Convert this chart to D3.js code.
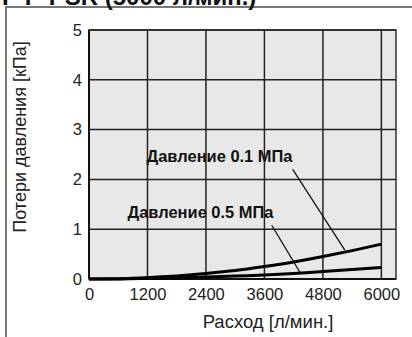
<!DOCTYPE html>
<html><head><meta charset="utf-8">
<script src="https://cdn.jsdelivr.net/npm/d3@7"></script>
<style>
html,body{margin:0;padding:0;background:#fff;}
svg{display:block;}
</style></head>
<body>
<svg id="chart" width="412" height="337"></svg>
<script>
const titleText = "Р P-PSR (5000 л/мин.)";
const xTicks = [0, 1200, 2400, 3600, 4800, 6000];
const yTicks = [0, 1, 2, 3, 4, 5];
const flow = [0, 600, 1200, 1800, 2400, 3000, 3600, 4200, 4800, 5400, 6000];
const loss01 = [0, 0.005, 0.03, 0.06, 0.11, 0.17, 0.25, 0.34, 0.45, 0.57, 0.70];
const loss05 = [0, 0.002, 0.01, 0.02, 0.04, 0.06, 0.08, 0.11, 0.15, 0.19, 0.23];
const seriesNames = ["Давление 0.1 МПа", "Давление 0.5 МПа"];
// label anchor [x, y] and leader line [x1,y1,x2,y2] in data units
const labelPos = [[1180, 2.34], [790, 1.22]];
const leaders = [[4180, 2.2, 5250, 0.58], [3750, 1.08, 4325, 0.14]];

const svg = d3.select("#chart");
const x = d3.scaleLinear().domain([0, 6300]).range([89, 396]);
const y = d3.scaleLinear().domain([0, 5]).range([279, 30]);

// outer frame
svg.append("path").attr("d", "M6,337 V7 H412").attr("fill", "none")
  .attr("stroke", "#777").attr("stroke-width", 2);
// title (cut off at the top edge as in the reference)
svg.append("text").attr("x", 2).attr("y", 5).text(titleText)
  .attr("font-family", "Liberation Sans, Arial, sans-serif").attr("font-weight", "bold")
  .attr("font-size", 24).attr("fill", "#111");

// plot background
svg.append("rect").attr("x", x(0)).attr("y", y(5)).attr("width", x(6300) - x(0))
  .attr("height", y(0) - y(5)).attr("fill", "#e8e8e8").attr("stroke", "#333").attr("stroke-width", 1.5);

// grid
const g = svg.append("g");
g.selectAll(".vg").data(xTicks.slice(1)).join("line")
  .attr("x1", d => x(d)).attr("x2", d => x(d)).attr("y1", y(0)).attr("y2", y(5))
  .attr("stroke", "#222").attr("stroke-width", 1.5);
g.selectAll(".hg").data(yTicks.slice(1)).join("line")
  .attr("x1", x(0)).attr("x2", x(6300)).attr("y1", d => y(d)).attr("y2", d => y(d))
  .attr("stroke", "#222").attr("stroke-width", 1.5);

// axes
const xAxis = svg.append("g").attr("transform", `translate(0,${y(0)})`)
  .call(d3.axisBottom(x).tickValues(xTicks).tickSize(0).tickPadding(9).tickFormat(d3.format("d")));
const yAxis = svg.append("g").attr("transform", `translate(${x(0)},0)`)
  .call(d3.axisLeft(y).tickValues(yTicks).tickSize(0).tickPadding(7).tickFormat(d3.format("d")));
[xAxis, yAxis].forEach(a => {
  a.select(".domain").attr("stroke", "#111").attr("stroke-width", 2);
  a.selectAll("text").attr("font-family", "Liberation Sans, Arial, sans-serif")
    .attr("font-size", 16.5).attr("fill", "#222");
});
xAxis.select(".domain").attr("d", `M${x(0)},0H${x(6300)}`);
yAxis.select(".domain").attr("d", `M0,${y(0)}V${y(5)}`);

// axis titles
svg.append("text").attr("x", 268).attr("y", 328).attr("text-anchor", "middle")
  .attr("font-family", "Liberation Sans, Arial, sans-serif").attr("font-size", 18.5)
  .attr("fill", "#222").text("Расход [л/мин.]");
svg.append("text").attr("transform", "translate(26,137) rotate(-90)").attr("text-anchor", "middle")
  .attr("font-family", "Liberation Sans, Arial, sans-serif").attr("font-size", 18)
  .attr("fill", "#222").text("Потери давления [кПа]");

// curves
const line = d3.line().x(d => x(d[0])).y(d => y(d[1])).curve(d3.curveMonotoneX);
[loss01, loss05].forEach(vals => {
  svg.append("path").datum(flow.map((f, i) => [f, vals[i]])).attr("d", line)
    .attr("fill", "none").attr("stroke", "#000").attr("stroke-width", 3);
});

// leaders & labels
svg.selectAll(".leader").data(leaders).join("line")
  .attr("x1", d => x(d[0])).attr("y1", d => y(d[1])).attr("x2", d => x(d[2])).attr("y2", d => y(d[3]))
  .attr("stroke", "#111").attr("stroke-width", 1.3);
svg.selectAll(".lbl").data(seriesNames).join("text")
  .attr("x", (d, i) => x(labelPos[i][0])).attr("y", (d, i) => y(labelPos[i][1]))
  .attr("font-family", "Liberation Sans Narrow, Arial Narrow, Liberation Sans, sans-serif")
  .attr("font-weight", "bold").attr("font-size", 16.5).attr("fill", "#111")
  .attr("textLength", 146).attr("lengthAdjust", "spacingAndGlyphs")
  .text(d => d);
</script>
</body></html>
